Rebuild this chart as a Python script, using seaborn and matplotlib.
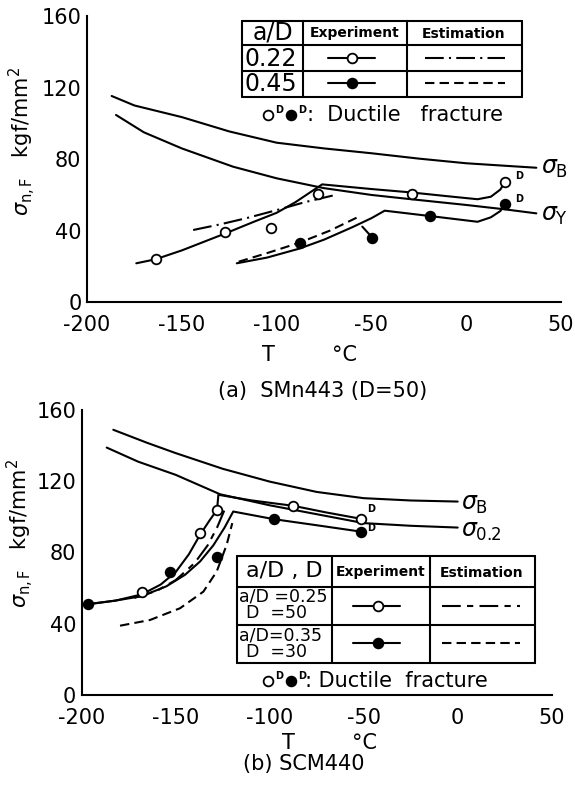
import matplotlib
matplotlib.use("Agg")
import matplotlib.pyplot as plt
import seaborn as sns
from matplotlib.lines import Line2D

sns.set_style("white")
plt.rcParams['font.family'] = ['DejaVu Sans']
plt.rcParams['axes.unicode_minus'] = False
plt.rcParams['mathtext.fontset'] = 'dejavusans'
plt.rcParams['text.color'] = 'k'
plt.rcParams['axes.labelcolor'] = 'k'
plt.rcParams['xtick.color'] = 'k'
plt.rcParams['ytick.color'] = 'k'

# ---------------- data: (a) SMn443 (D=50) ----------------
T_sigB_a = [-187, -175, -150, -125, -100, -75, -50, -25, 0, 25, 37]
sigB_a = [115.3, 110, 103.5, 95.5, 89.2, 86, 83.3, 80.3, 77.7, 76, 75.2]
T_sigY_a = [-184.7, -170, -150, -123, -100, -75, -50, -29, 0, 20, 37]
sigY_a = [104.7, 95, 86, 75.8, 69.3, 63.8, 60, 57.6, 54.4, 52, 49.7]
T_exp22 = [-174, -164, -150, -127, -112, -100, -90, -76, -50, -29, -10, 6, 13, 18, 20.5]
s_exp22 = [21.8, 24, 29, 38.5, 45, 50, 56, 65.9, 63.3, 61.4, 59.3, 57.6, 59, 63, 67.4]
T_est22 = [-144, -130, -116, -100, -85, -69]
s_est22 = [40.4, 43.5, 47, 51.5, 56, 60]
T_exp45 = [-121, -105, -88, -75, -60, -50, -43, -19, 6, 13, 18, 20.5]
s_exp45 = [21.8, 25, 30, 35, 42, 47, 51.2, 48.2, 45, 47.5, 51, 54.9]
T_est45 = [-120, -105, -88, -72, -56]
s_est45 = [22.7, 27.5, 33.3, 40, 48.2]
T_link45 = [-54.8, -49.5]
s_link45 = [42.3, 36.1]
T_open_a = [-163.8, -127.2, -103.1, -78.3, -28.8, 20.5]
s_open_a = [24.0, 39.5, 41.4, 60.5, 60.4, 67.4]
T_fill_a = [-87.7, -49.5, -19.1, 20.5]
s_fill_a = [33.0, 36.1, 48.2, 54.9]

# ---------------- data: (b) SCM440 ----------------
T_sigB_b = [-183.2, -165, -150, -125, -100, -75, -50, -25, 0]
sigB_b = [148.9, 141.5, 135.8, 127, 119.8, 114, 110.5, 109.2, 108.6]
T_sig02_b = [-186.7, -170, -150, -126.4, -100, -75, -50, -25, 0]
sig02_b = [138.9, 131, 123.6, 112.7, 106.5, 101.5, 96.5, 95, 94]
T_exp25 = [-196.5, -182, -168, -158, -150, -143, -137, -132, -128, -127.3, -110, -87.4, -70, -51.4]
s_exp25 = [51, 53, 56.5, 62, 69, 79, 90, 98, 104, 112.4, 109.3, 106.2, 102.5, 98.9]
T_est25 = [-172, -160, -150, -140, -133, -128, -124]
s_est25 = [54.5, 58.5, 64.5, 74, 84, 94, 104]
T_exp35 = [-196.5, -182, -168, -155, -145, -137, -130, -124, -119.4, -97.7, -75, -51.4]
s_exp35 = [51, 53, 55.5, 61, 67.5, 75, 84, 94, 103, 98.7, 95.3, 91.7]
T_est35 = [-179.6, -163.7, -147.7, -135.3, -128.2, -122.9, -119.9]
s_est35 = [38.9, 42.1, 48.7, 58, 69.3, 84.3, 96.5]
T_open_b = [-168.1, -137.1, -127.9, -87.4, -51.4]
s_open_b = [58, 91.2, 103.9, 106.2, 98.9]
T_fill_b = [-196.5, -153, -128.2, -97.7, -51.4]
s_fill_b = [51, 68.9, 77.4, 98.7, 91.7]

x_ticks = [-200, -150, -100, -50, 0, 50]
y_ticks = [0, 40, 80, 120, 160]

W, H = 575, 796
fig = plt.figure(figsize=(W / 100, H / 100), dpi=100)


def fx(p):
    return p / W


def fy(p):
    return 1 - p / H


ax1 = fig.add_axes([fx(87), fy(302.3), fx(561) - fx(87), fy(16) - fy(302.3)])
ax2 = fig.add_axes([fx(81.7), fy(695), fx(551.7) - fx(81.7), fy(410) - fy(695)])

LW = 1.5
DASHDOT_A = (0, (9, 2.5, 1, 2.5))
DASHDOT_B = (0, (9, 3, 3, 3))
DASHED = (0, (4.5, 2.5))


def curve(ax, x, y, ls='-'):
    sns.lineplot(x=x, y=y, ax=ax, color='k', lw=LW, sort=False,
                 estimator=None, linestyle=ls, legend=False)


def points(ax, x, y, filled):
    sns.scatterplot(x=x, y=y, ax=ax, marker='o', s=48,
                    facecolor='k' if filled else 'white', edgecolor='k',
                    linewidth=1.3, zorder=5, clip_on=False, legend=False)


def style_axes(ax):
    ax.set_xlim(-200, 50)
    ax.set_ylim(0, 160)
    ax.set_xticks(x_ticks)
    ax.set_yticks(y_ticks)
    ax.set_xticklabels([str(v) for v in x_ticks])
    ax.set_yticklabels([str(v) for v in y_ticks])
    for s in ['top', 'right']:
        ax.spines[s].set_visible(False)
    for s in ['left', 'bottom']:
        ax.spines[s].set_linewidth(LW)
        ax.spines[s].set_color('k')
    ax.tick_params(axis='x', direction='in', length=6, width=1.3,
                   labelsize=15, pad=9, colors='k')
    ax.tick_params(axis='y', direction='in', length=5, width=1.3,
                   labelsize=15, pad=4, colors='k')
    ax.set_xlabel('')
    ax.set_ylabel('')
    ax.patch.set_alpha(0)


# ---- panel (a)
curve(ax1, T_sigB_a, sigB_a)
curve(ax1, T_sigY_a, sigY_a)
curve(ax1, T_exp22, s_exp22)
curve(ax1, T_est22, s_est22, DASHDOT_A)
curve(ax1, T_exp45, s_exp45)
curve(ax1, T_est45, s_est45, DASHED)
curve(ax1, T_link45, s_link45)
points(ax1, T_open_a, s_open_a, False)
points(ax1, T_fill_a, s_fill_a, True)
ax1.text(39.5, 75, r'$\sigma_{\rm B}$', fontsize=17, va='center', ha='left')
ax1.text(39.5, 48.8, r'$\sigma_{\rm Y}$', fontsize=17, va='center', ha='left')
ax1.text(26, 70.5, 'D', fontsize=7, fontweight='bold', va='center')
ax1.text(26, 57.8, 'D', fontsize=7, fontweight='bold', va='center')
style_axes(ax1)

# ---- panel (b)
curve(ax2, T_sigB_b, sigB_b)
curve(ax2, T_sig02_b, sig02_b)
curve(ax2, T_exp25, s_exp25)
curve(ax2, T_est25, s_est25, DASHDOT_B)
curve(ax2, T_exp35, s_exp35)
curve(ax2, T_est35, s_est35, DASHED)
points(ax2, T_open_b, s_open_b, False)
points(ax2, T_fill_b, s_fill_b, True)
ax2.text(1.5, 107, r'$\sigma_{\rm B}$', fontsize=17, va='center', ha='left')
ax2.text(1.5, 92, r'$\sigma_{0.2}$', fontsize=17, va='center', ha='left')
ax2.text(-48, 104.5, 'D', fontsize=7, fontweight='bold', va='center')
ax2.text(-48, 94, 'D', fontsize=7, fontweight='bold', va='center')
style_axes(ax2)

# ---- figure-level text
ylab = r'$\sigma_{\rm n,F}$   kgf/mm$^2$'
fig.text(fx(22), fy(141), ylab, rotation=90, fontsize=15, ha='center', va='center')
fig.text(fx(20), fy(533), ylab, rotation=90, fontsize=15, ha='center', va='center')
fig.text(fx(268), fy(355), 'T', fontsize=15, ha='center', va='center')
fig.text(fx(345), fy(355), '°C', fontsize=15, ha='center', va='center')
fig.text(fx(323), fy(391), '(a)  SMn443 (D=50)', fontsize=15, ha='center', va='center')
fig.text(fx(288), fy(743), 'T', fontsize=15, ha='center', va='center')
fig.text(fx(365), fy(743), '°C', fontsize=15, ha='center', va='center')
fig.text(fx(304), fy(764), '(b) SCM440', fontsize=15, ha='center', va='center')


def fline(x0, x1, y0, y1, ls='-', lw=LW):
    fig.add_artist(Line2D([fx(x0), fx(x1)], [fy(y0), fy(y1)], color='k', lw=lw,
                          linestyle=ls, transform=fig.transFigure))


def fmark(x, y, filled):
    fig.add_artist(Line2D([fx(x)], [fy(y)], marker='o', markersize=7,
                          markerfacecolor='k' if filled else 'white',
                          markeredgecolor='k', markeredgewidth=1.3,
                          linestyle='none', transform=fig.transFigure))


def box(x0, x1, y0, y1):
    fline(x0, x1, y0, y0)
    fline(x0, x1, y1, y1)
    fline(x0, x0, y0, y1)
    fline(x1, x1, y0, y1)


# table (a)
box(241.7, 521.7, 20.7, 97.3)
fline(241.7, 521.7, 45, 45)
fline(241.7, 521.7, 70.7, 70.7)
fline(303.3, 303.3, 20.7, 97.3)
fline(406.7, 406.7, 20.7, 97.3)
fig.text(fx(272.5), fy(33), 'a/D', fontsize=17, ha='center', va='center')
fig.text(fx(355), fy(33.5), 'Experiment', fontsize=10, fontweight='bold', ha='center', va='center')
fig.text(fx(464), fy(33.5), 'Estimation', fontsize=10, fontweight='bold', ha='center', va='center')
fig.text(fx(244), fy(58.5), '0.22', fontsize=17, ha='left', va='center')
fig.text(fx(244), fy(84), '0.45', fontsize=17, ha='left', va='center')
fline(328, 375, 58.3, 58.3)
fmark(352, 58.3, False)
fline(328, 375, 82.7, 82.7)
fmark(352, 82.7, True)
fline(425, 505, 58.3, 58.3, ls=DASHDOT_A)
fline(425, 505, 82.7, 82.7, ls=DASHED)

fmark(268, 115, False)
fig.text(fx(275), fy(110), 'D', fontsize=7, fontweight='bold', ha='left', va='center')
fmark(291, 115, True)
fig.text(fx(298), fy(110), 'D', fontsize=7, fontweight='bold', ha='left', va='center')
fig.text(fx(307), fy(115), ':  Ductile   fracture', fontsize=15, ha='left', va='center')

# table (b)
box(236.7, 535, 556, 663.3)
fline(236.7, 535, 586.7, 586.7)
fline(236.7, 535, 625, 625)
fline(331.7, 331.7, 556, 663.3)
fline(430, 430, 556, 663.3)
fig.text(fx(284), fy(571), 'a/D , D', fontsize=16, ha='center', va='center')
fig.text(fx(381), fy(572), 'Experiment', fontsize=10, fontweight='bold', ha='center', va='center')
fig.text(fx(482), fy(573), 'Estimation', fontsize=10, fontweight='bold', ha='center', va='center')
fig.text(fx(239), fy(596.5), 'a/D =0.25', fontsize=12.5, ha='left', va='center')
fig.text(fx(246), fy(613.5), 'D  =50', fontsize=12.5, ha='left', va='center')
fig.text(fx(239), fy(635.5), 'a/D=0.35', fontsize=12.5, ha='left', va='center')
fig.text(fx(246), fy(652), 'D  =30', fontsize=12.5, ha='left', va='center')
fline(353, 400, 605.7, 605.7)
fmark(377.7, 605.7, False)
fline(353, 400, 642.7, 642.7)
fmark(377.7, 642.7, True)
fline(441.7, 520, 605.7, 605.7, ls=DASHDOT_B)
fline(441.7, 520, 642.7, 642.7, ls=DASHED)

fmark(268, 681, False)
fig.text(fx(275), fy(676), 'D', fontsize=7, fontweight='bold', ha='left', va='center')
fmark(291, 681, True)
fig.text(fx(298), fy(676), 'D', fontsize=7, fontweight='bold', ha='left', va='center')
fig.text(fx(305), fy(681), ': Ductile  fracture', fontsize=15, ha='left', va='center')

fig.savefig('out.png', dpi=100)
